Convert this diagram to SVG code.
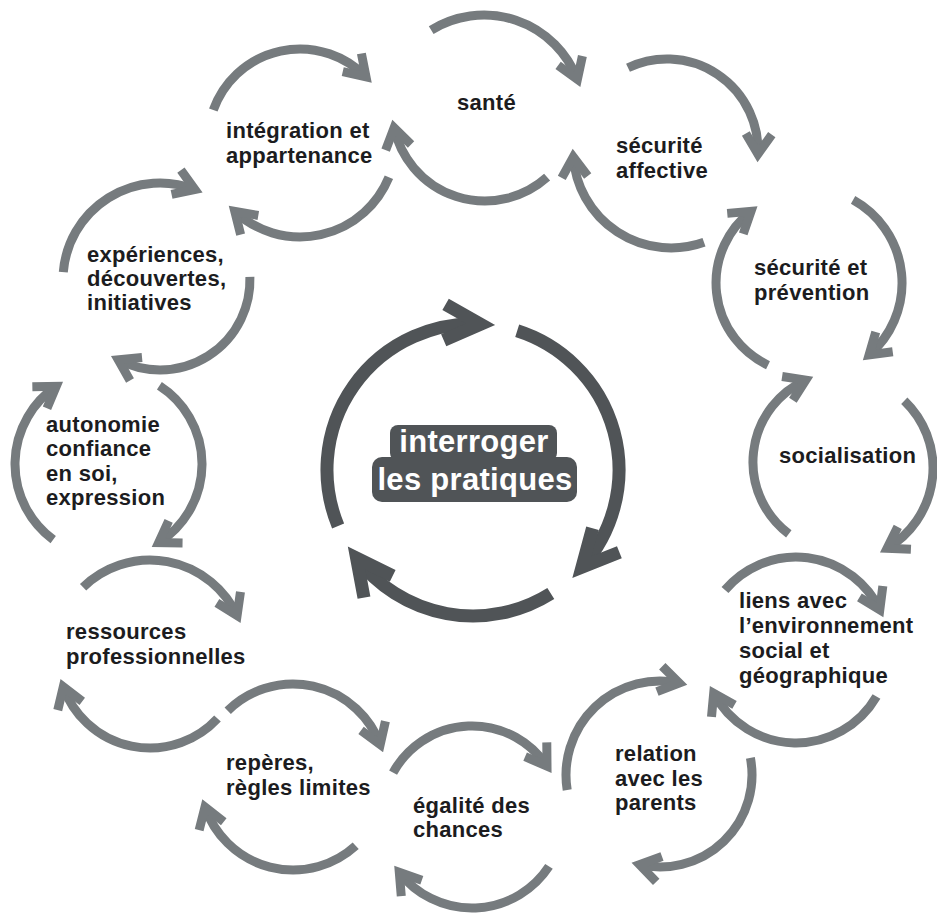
<svg xmlns="http://www.w3.org/2000/svg" width="937" height="915" viewBox="0 0 937 915">
  <style>
    .arc { fill: none; stroke: #767b7e; stroke-width: 9; stroke-linecap: butt; marker-end: url(#chev); }
    .core { fill: none; stroke: #505457; stroke-width: 13; stroke-linecap: butt; marker-end: url(#chevBig); }
    .lbl { font-family: "Liberation Sans", Arial, sans-serif; font-weight: bold; font-size: 22px; letter-spacing: 0.3px; fill: #1c1c20; }
    .hub { font-family: "Liberation Sans", Arial, sans-serif; font-weight: bold; font-size: 31px; letter-spacing: 0.3px; fill: #ffffff; text-anchor: middle; }
  </style>
  <defs>
    <marker id="chev" markerUnits="userSpaceOnUse" orient="auto" markerWidth="60" markerHeight="60" viewBox="-30 -30 60 60" refX="0" refY="0" overflow="visible">
      <path d="M-20,-13 L0,0 L-20,13" fill="none" stroke="#767b7e" stroke-width="9" stroke-linejoin="miter" stroke-miterlimit="10"/>
    </marker>
    <marker id="chevBig" markerUnits="userSpaceOnUse" orient="auto" markerWidth="100" markerHeight="100" viewBox="-50 -50 100 100" refX="0" refY="0" overflow="visible">
      <path d="M-36,-18 L0,0 L-36,18" fill="none" stroke="#505457" stroke-width="13" stroke-linejoin="miter" stroke-miterlimit="10"/>
    </marker>
  </defs>
  <rect width="937" height="915" fill="#ffffff"/>

  <!-- circular arrows around each theme, plus the central cycle -->
  <g id="connectors">
    <path class="arc" d="M431.2,30.1 A100,100 0 0 1 577.4,79.3"/>
    <path class="arc" d="M547.1,177.2 A93,93 0 0 1 394.1,127.8"/>
    <path class="arc" d="M213.3,110.1 A92,92 0 0 1 366.0,76.9"/>
    <path class="arc" d="M388.9,177.3 A96,96 0 0 1 234.8,211.4"/>
    <path class="arc" d="M628.0,67.8 A91,91 0 0 1 757.9,154.1"/>
    <path class="arc" d="M704.0,242.3 A98,98 0 0 1 573.3,157.0"/>
    <path class="arc" d="M853.1,199.9 A95,95 0 0 1 869.1,354.9"/>
    <path class="arc" d="M768.0,365.2 A91,91 0 0 1 751.0,211.3"/>
    <path class="arc" d="M904.3,400.8 A93,93 0 0 1 887.1,548.2"/>
    <path class="arc" d="M788.8,533.9 A90,90 0 0 1 805.7,380.1"/>
    <path class="arc" d="M725.0,590.0 A93,93 0 0 1 879.8,609.7"/>
    <path class="arc" d="M876.5,696.5 A93,93 0 0 1 713.7,693.2"/>
    <path class="arc" d="M567.2,790.0 A94,94 0 0 1 679.2,683.0"/>
    <path class="arc" d="M750.4,757.9 A92,92 0 0 1 639.6,864.7"/>
    <path class="arc" d="M393.1,772.6 A90,90 0 0 1 547.0,766.2"/>
    <path class="arc" d="M549.0,866.4 A92,92 0 0 1 399.3,872.4"/>
    <path class="arc" d="M227.7,710.8 A93,93 0 0 1 380.2,744.6"/>
    <path class="arc" d="M355.7,845.7 A93,93 0 0 1 205.0,807.0"/>
    <path class="arc" d="M83.1,587.2 A96,96 0 0 1 237.1,615.6"/>
    <path class="arc" d="M217.5,718.5 A92,92 0 0 1 63.3,686.9"/>
    <path class="arc" d="M53.2,539.7 A94,94 0 0 1 56.2,386.3"/>
    <path class="arc" d="M159.4,385.8 A93,93 0 0 1 158.7,542.6"/>
    <path class="arc" d="M63.3,272.1 A97,97 0 0 1 194.9,189.5"/>
    <path class="arc" d="M249.9,276.9 A90,90 0 0 1 118.3,359.8"/>

    <path class="core" d="M338.1,525.9 A146,146 0 0 1 480.6,324.2"/>
    <path class="core" d="M517.2,330.8 A146,146 0 0 1 582.0,567.1"/>
    <path class="core" d="M550.8,593.5 A146,146 0 0 1 356.6,558.1"/>
  </g>

  <g id="hub">
    <rect x="390" y="425" width="167" height="36" rx="8" fill="#505457"/>
    <rect x="372" y="457" width="205" height="45" rx="10" fill="#505457"/>
    <text class="hub" x="474" y="452">interroger</text>
    <text class="hub" x="475" y="490">les pratiques</text>
  </g>

  <g id="sante"><text class="lbl" x="457" y="110">santé</text></g>
  <g id="integration">
    <text class="lbl" x="226" y="138">intégration et</text>
    <text class="lbl" x="226" y="163">appartenance</text>
  </g>
  <g id="securite-affective">
    <text class="lbl" x="616" y="153">sécurité</text>
    <text class="lbl" x="616" y="178">affective</text>
  </g>
  <g id="securite-prevention">
    <text class="lbl" x="754" y="275">sécurité et</text>
    <text class="lbl" x="754" y="300">prévention</text>
  </g>
  <g id="socialisation"><text class="lbl" x="779" y="463">socialisation</text></g>
  <g id="liens-environnement">
    <text class="lbl" x="739" y="608">liens avec</text>
    <text class="lbl" x="739" y="633">l’environnement</text>
    <text class="lbl" x="739" y="658">social et</text>
    <text class="lbl" x="739" y="683">géographique</text>
  </g>
  <g id="relation-parents">
    <text class="lbl" x="615" y="761">relation</text>
    <text class="lbl" x="615" y="786">avec les</text>
    <text class="lbl" x="615" y="810">parents</text>
  </g>
  <g id="egalite-chances">
    <text class="lbl" x="413" y="813">égalité des</text>
    <text class="lbl" x="413" y="837">chances</text>
  </g>
  <g id="reperes">
    <text class="lbl" x="226" y="770">repères,</text>
    <text class="lbl" x="226" y="795">règles limites</text>
  </g>
  <g id="ressources">
    <text class="lbl" x="66" y="639">ressources</text>
    <text class="lbl" x="66" y="664">professionnelles</text>
  </g>
  <g id="autonomie">
    <text class="lbl" x="46" y="432">autonomie</text>
    <text class="lbl" x="46" y="456">confiance</text>
    <text class="lbl" x="46" y="481">en soi,</text>
    <text class="lbl" x="46" y="505">expression</text>
  </g>
  <g id="experiences">
    <text class="lbl" x="87" y="262">expériences,</text>
    <text class="lbl" x="87" y="286">découvertes,</text>
    <text class="lbl" x="87" y="310">initiatives</text>
  </g>
</svg>
